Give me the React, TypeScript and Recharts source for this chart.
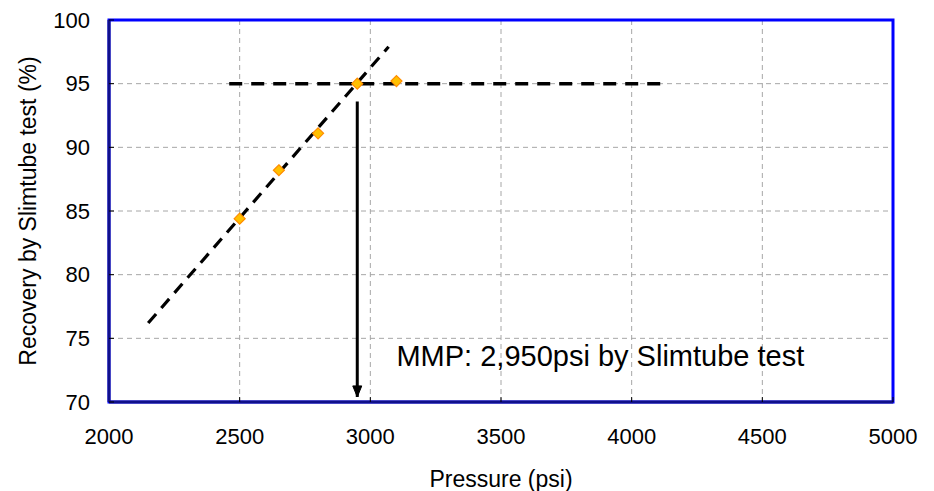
import React from 'react';
import {
  ComposedChart,
  XAxis,
  YAxis,
  CartesianGrid,
  Line,
  Scatter,
  ReferenceArea,
  ReferenceDot,
} from 'recharts';

const pressures = [2500, 2650, 2800, 2950, 3100];
const recoveries = [84.4, 88.2, 91.1, 95.0, 95.2];
const xTicks = [2000, 2500, 3000, 3500, 4000, 4500, 5000];
const yTicks = [70, 75, 80, 85, 90, 95, 100];
const trendX = [2150, 3070];
const trendY = [76.2, 97.9];
const levelX = [2460, 4130];
const levelY = [95, 95];
const arrowX = [2950, 2950];
const arrowY = [93.6, 70.4];
const mmpText = 'MMP: 2,950psi by Slimtube test';
const mmpAt = { x: 3100, y: 72.8 };

const points = pressures.map((x, i) => ({ x, y: recoveries[i] }));
const trend = trendX.map((x, i) => ({ x, y: trendY[i] }));
const level = levelX.map((x, i) => ({ x, y: levelY[i] }));
const arrow = arrowX.map((x, i) => ({ x, y: arrowY[i] }));

const FONT = '"Liberation Sans", Arial, sans-serif';

const Diamond = (props: any) => {
  const { cx, cy } = props;
  const h = 5.5;
  return (
    <polygon
      points={`${cx},${cy - h} ${cx + h},${cy} ${cx},${cy + h} ${cx - h},${cy}`}
      fill="#ffc000"
      stroke="#ff8c00"
      strokeWidth={1.2}
    />
  );
};

const ArrowHead = (props: any) => {
  const { cx, cy, index } = props;
  if (index !== 1) return <g key={`a${index}`} />;
  return (
    <path
      key={`a${index}`}
      d={`M${cx},${cy} L${cx - 4.5},${cy - 11} L${cx + 4.5},${cy - 11} Z`}
      fill="#000"
      stroke="#000"
    />
  );
};

export default function App() {
  return (
    <div style={{ position: 'absolute', left: 0, top: 0, background: '#fff' }}>
      <ComposedChart
        width={934}
        height={491}
        margin={{ top: 20, right: 41, bottom: 0, left: 0 }}
        style={{ fontFamily: FONT }}
      >
        <CartesianGrid stroke="#a6a6a6" strokeDasharray="5 4" strokeWidth={1} />
        <ReferenceArea
          x1={2000}
          x2={5000}
          y1={70}
          y2={100}
          fill="none"
          stroke="#0000ff"
          strokeWidth={3}
          ifOverflow="visible"
        />
        <XAxis
          dataKey="x"
          type="number"
          domain={[2000, 5000]}
          ticks={xTicks}
          height={89}
          tickSize={-5}
          tickMargin={31}
          axisLine={{ stroke: '#10108a', strokeWidth: 3 }}
          tickLine={{ stroke: '#000' }}
          tick={{ fill: '#000', fontSize: 22, fontFamily: FONT }}
          allowDataOverflow
          label={{
            value: 'Pressure (psi)',
            position: 'insideBottom',
            offset: 4,
            fill: '#000',
            fontSize: 23,
            fontFamily: FONT,
          }}
        />
        <YAxis
          type="number"
          domain={[70, 100]}
          ticks={yTicks}
          width={109}
          tickSize={-5}
          tickMargin={24}
          axisLine={{ stroke: '#10108a', strokeWidth: 3 }}
          tickLine={{ stroke: '#000' }}
          tick={{ fill: '#000', fontSize: 22, fontFamily: FONT }}
          allowDataOverflow
          label={{
            content: (p: any) => {
              const vb = p.viewBox || {};
              const cx = 28;
              const cy = (vb.y ?? 20) + (vb.height ?? 382) / 2;
              return (
                <text
                  x={cx}
                  y={cy}
                  transform={`rotate(-90, ${cx}, ${cy})`}
                  textAnchor="middle"
                  dominantBaseline="central"
                  fill="#000"
                  fontSize={23}
                  fontFamily={FONT}
                >
                  Recovery by Slimtube test (%)
                </text>
              );
            },
          }}
        />
        <Scatter
          data={points}
          dataKey="y"
          shape={<Diamond />}
          isAnimationActive={false}
        />
        <Line
          data={trend}
          dataKey="y"
          stroke="#000"
          strokeWidth={3.2}
          strokeDasharray="12 8"
          dot={false}
          activeDot={false}
          isAnimationActive={false}
        />
        <Line
          data={level}
          dataKey="y"
          stroke="#000"
          strokeWidth={3.5}
          strokeDasharray="13 9"
          dot={false}
          activeDot={false}
          isAnimationActive={false}
        />
        <Line
          data={arrow}
          dataKey="y"
          stroke="#000"
          strokeWidth={3}
          dot={ArrowHead}
          activeDot={false}
          isAnimationActive={false}
        />
        <ReferenceDot
          x={mmpAt.x}
          y={mmpAt.y}
          r={0}
          fill="none"
          stroke="none"
          ifOverflow="visible"
          label={{
            content: (p: any) => {
              const vb = p.viewBox || {};
              return (
                <text
                  x={vb.x}
                  y={vb.y}
                  textAnchor="start"
                  fill="#000"
                  fontSize={29}
                  fontFamily={FONT}
                >
                  {mmpText}
                </text>
              );
            },
          }}
        />
      </ComposedChart>
    </div>
  );
}
